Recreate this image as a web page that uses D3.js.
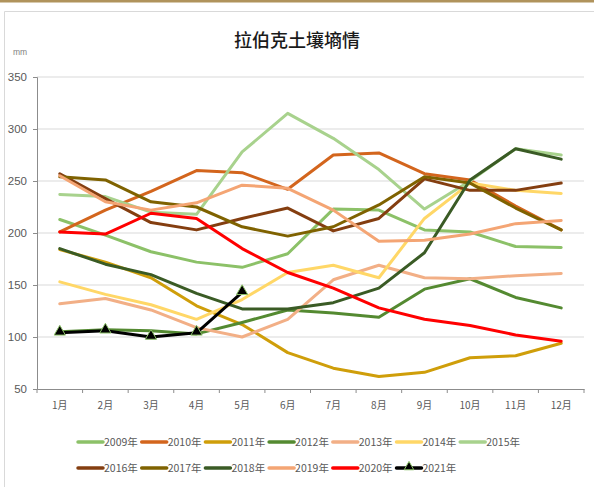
<!DOCTYPE html>
<html><head><meta charset="utf-8">
<script src="https://cdn.jsdelivr.net/npm/d3@7"></script>
<style>body{margin:0;background:#fff;}svg{display:block;}</style>
</head><body>
<script>
const months = ["1月","2月","3月","4月","5月","6月","7月","8月","9月","10月","11月","12月"];
const yTicks = [50,100,150,200,250,300,350];
const seriesNames = ["2009年","2010年","2011年","2012年","2013年","2014年","2015年","2016年","2017年","2018年","2019年","2020年","2021年"];
const seriesColors = ["#8CC168","#D3651D","#CF9E0A","#548A31","#F2AF86","#FFD767","#A8D28D","#843E10","#7F6200","#3A5B25","#F4A574","#FF0000","#000000"];
const v2009 = [213,198,182,172,167,180,223,222,203,201,187,186];
const v2010 = [201,222,240,260,258,242,275,277,257,251,226,203];
const v2011 = [184,172,157,130,112,85,70,62,66,80,82,94];
const v2012 = [105,107,106,103,114,126,123,119,146,156,138,128];
const v2013 = [132,137,126,109,100,117,155,169,157,156,159,161];
const v2014 = [153,141,131,117,136,162,169,157,214,248,241,238];
const v2015 = [237,235,220,218,278,315,291,261,223,250,281,275];
const v2016 = [257,233,210,203,214,224,202,214,252,241,241,248];
const v2017 = [254,251,230,225,206,197,206,227,254,248,224,203];
const v2018 = [185,170,160,142,127,127,133,147,181,251,281,271];
const v2019 = [255,230,222,229,246,243,222,192,193,199,209,212];
const v2020 = [201,199,219,214,185,162,147,128,117,111,102,96];
const v2021 = [104,106,100,104,143];
const allValues = [v2009,v2010,v2011,v2012,v2013,v2014,v2015,v2016,v2017,v2018,v2019,v2020,v2021];

const W = 594, H = 487;
const m = {left:37, right:10, top:77, bottom:98};
const svg = d3.select("body").append("svg").attr("width",W).attr("height",H);
const font = "'Liberation Sans', Arial, sans-serif";

// top bar and frame
svg.append("rect").attr("x",0).attr("y",0).attr("width",W).attr("height",2.5).attr("fill","#B0935C");
svg.append("path").attr("d",`M${W},11.5 H4.5 V${H}`).attr("fill","none").attr("stroke","#D9D9D9").attr("stroke-width",1);

const x = d3.scaleBand().domain(months).range([m.left, 584]);
const y = d3.scaleLinear().domain([50,350]).range([389, 77]);

// gridlines
svg.append("g").selectAll("line").data(yTicks.filter(t=>t>50)).join("line")
  .attr("x1",m.left).attr("x2",584).attr("y1",d=>y(d)).attr("y2",d=>y(d))
  .attr("stroke","#D9D9D9").attr("stroke-width",1.2);

// y axis
const yAxis = svg.append("g").attr("transform",`translate(${m.left},0)`)
  .call(d3.axisLeft(y).tickValues(yTicks).tickSize(4).tickPadding(6));
yAxis.select(".domain").attr("stroke","#8C8C8C");
yAxis.selectAll(".tick line").attr("stroke","#8C8C8C");
yAxis.selectAll("text").attr("font-family",font).attr("font-size",11.5).attr("fill","#595959");

// x axis
const xAxis = svg.append("g").attr("transform",`translate(0,389)`)
  .call(d3.axisBottom(x).tickSizeOuter(0).tickSize(0).tickPadding(13));
xAxis.select(".domain").attr("stroke","#8C8C8C");
xAxis.selectAll("text").attr("font-family","'Noto Sans CJK SC', sans-serif").attr("font-size",10).attr("fill","#595959");
// boundary ticks
const bounds = months.map(d=>x(d)).concat([584]);
svg.append("g").selectAll("line").data(bounds).join("line")
  .attr("x1",d=>d).attr("x2",d=>d).attr("y1",389).attr("y2",393)
  .attr("stroke","#8C8C8C");

// lines
const cx = (i)=> x(months[i]) + x.bandwidth()/2;
const line = d3.line().x((d,i)=>cx(i)).y(d=>y(d));
const order = [0,1,2,3,4,5,6,7,8,9,10,11,12];
order.forEach(k=>{
  svg.append("path").datum(allValues[k]).attr("d",line)
    .attr("fill","none").attr("stroke",seriesColors[k])
    .attr("stroke-width",3).attr("stroke-linejoin","round").attr("stroke-linecap","round");
});
// 2021 markers
const tri = d3.symbol().type(d3.symbolTriangle).size(55);
svg.append("g").selectAll("path").data(v2021).join("path")
  .attr("d",tri).attr("transform",(d,i)=>`translate(${cx(i)},${y(d)-1})`)
  .attr("fill","#000").attr("stroke","#8CC168").attr("stroke-width",1);

// title
svg.append("text").attr("x",297).attr("y",47).attr("text-anchor","middle")
  .attr("font-family","'Noto Sans CJK SC', sans-serif").attr("font-size",18).attr("font-weight",500)
  .attr("fill","#1a1a1a").text("拉伯克土壤墒情");
svg.append("text").attr("x",13).attr("y",55).attr("font-family",font).attr("font-size",8.5)
  .attr("fill","#7f7f7f").text("mm");

// legend
const legend = svg.append("g");
seriesNames.forEach((n,i)=>{
  const row = i<7?0:1, col = i<7?i:i-7;
  const lx = 78 + col*63.7, ly = row===0?442:468;
  const g = legend.append("g");
  g.append("line").attr("x1",lx).attr("x2",lx+25).attr("y1",ly).attr("y2",ly)
    .attr("stroke",seriesColors[i]).attr("stroke-width",3.5).attr("stroke-linecap","round");
  if(i===12){
    g.append("path").attr("d",d3.symbol().type(d3.symbolTriangle).size(40))
      .attr("transform",`translate(${lx+12.5},${ly-1})`).attr("fill","#000").attr("stroke","#8CC168").attr("stroke-width",1);
  }
  g.append("text").attr("x",lx+26).attr("y",ly+4).attr("font-family","'Noto Sans CJK SC', sans-serif")
    .attr("font-size",10.5).attr("fill","#595959").text(n);
});
</script>
</body></html>
